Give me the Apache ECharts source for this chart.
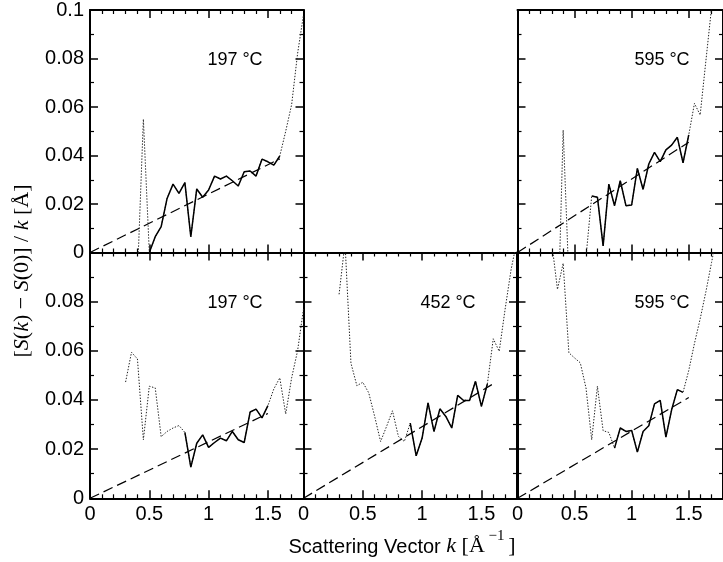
<!DOCTYPE html>
<html><head><meta charset="utf-8">
<script src="https://cdn.jsdelivr.net/npm/echarts@6/dist/echarts.min.js"></script>
<style>html,body{margin:0;padding:0;background:#fff}#c{width:723px;height:562px}</style>
</head><body><div id="c"></div>
<script>
// ---------- data ----------
// top-left panel, 197 °C
const kTL = [0.40,0.45,0.50,0.55,0.60,0.65,0.70,0.75,0.80,0.85,0.90,0.95,1.00,1.05,1.10,1.15,1.20,1.25,1.30,1.35,1.40,1.45,1.50,1.55,1.60,1.65,1.70,1.75,1.80];
const vTL = [-0.010,0.055,0.000,0.0065,0.0107,0.0223,0.0282,0.0244,0.0288,0.0065,0.0262,0.0228,0.0258,0.0315,0.0303,0.0315,0.0296,0.0274,0.0333,0.0336,0.0315,0.0385,0.0374,0.0360,0.0398,0.050,0.061,0.082,0.098];
const solidTL = [0.50, 1.60];
const fitTL = [[0,0],[1.60,0.0386]];

// top-right panel, 595 °C
const kTR = [0.35,0.40,0.45,0.50,0.55,0.60,0.65,0.70,0.75,0.80,0.85,0.90,0.95,1.00,1.05,1.10,1.15,1.20,1.25,1.30,1.35,1.40,1.45,1.50,1.55,1.60,1.65,1.70,1.75];
const vTR = [-0.036,0.0505,-0.011,-0.030,-0.020,-0.002,0.0233,0.0228,0.0027,0.0282,0.0193,0.0296,0.0193,0.0196,0.0347,0.0260,0.0365,0.0413,0.0375,0.0423,0.0443,0.0475,0.0370,0.0485,0.0615,0.0567,0.079,0.101,0.120];
const solidTR = [0.65, 1.50];
const fitTR = [[0,0],[1.50,0.0455]];

// bottom-left panel, 197 °C
const kBL = [0.30,0.35,0.40,0.45,0.50,0.55,0.60,0.65,0.70,0.75,0.80,0.85,0.90,0.95,1.00,1.05,1.10,1.15,1.20,1.25,1.30,1.35,1.40,1.45,1.50,1.55,1.60,1.65,1.70,1.75,1.80];
const vBL = [0.0473,0.0594,0.0567,0.0238,0.0456,0.0449,0.0251,0.0272,0.0286,0.0296,0.0268,0.0127,0.0224,0.0258,0.0207,0.0227,0.0245,0.0234,0.0272,0.0238,0.0227,0.0351,0.0363,0.0327,0.0377,0.0445,0.0490,0.0343,0.0490,0.0600,0.0770];
const solidBL = [0.80, 1.50];
const fitBL = [[0,0],[1.50,0.0345]];

// bottom-middle panel, 452 °C
const kBM = [0.30,0.35,0.40,0.45,0.50,0.55,0.60,0.65,0.70,0.75,0.80,0.85,0.90,0.95,1.00,1.05,1.10,1.15,1.20,1.25,1.30,1.35,1.40,1.45,1.50,1.55,1.60,1.65,1.70,1.75,1.80];
const vBM = [0.083,0.104,0.055,0.0458,0.0472,0.0429,0.0333,0.0231,0.0292,0.0356,0.0252,0.0231,0.0306,0.0173,0.0245,0.0388,0.0272,0.0364,0.0333,0.0286,0.0419,0.0398,0.0398,0.0476,0.0374,0.0465,0.0649,0.0598,0.077,0.093,0.105];
const solidBM = [0.90, 1.55];
const fitBM = [[0,0],[1.60,0.0466]];

// bottom-right panel, 595 °C
const kBR = [0.30,0.35,0.40,0.45,0.50,0.55,0.60,0.65,0.70,0.75,0.80,0.85,0.90,0.95,1.00,1.05,1.10,1.15,1.20,1.25,1.30,1.35,1.40,1.45,1.50,1.55,1.60,1.65,1.70,1.75];
const vBR = [0.104,0.085,0.0956,0.0592,0.0571,0.0551,0.0449,0.0238,0.0456,0.0275,0.0268,0.0204,0.0286,0.0272,0.0276,0.0188,0.0272,0.0295,0.0384,0.0398,0.0249,0.0360,0.0442,0.0431,0.052,0.063,0.073,0.084,0.096,0.108];
const solidBR = [0.85, 1.45];
const fitBR = [[0,0],[1.50,0.041]];

const panelLabels = ['197 °C', '595 °C', '197 °C', '452 °C', '595 °C'];
const xTicks = {min: 0, max: 1.8, interval: 0.5};
const yTicks = {min: 0, max: 0.1, interval: 0.02};

// ---------- layout ----------
const panels = [
  {grid:{left:90,   top:10,    width:213.5, height:242.5}, k:kTL, v:vTL, solid:solidTL, fit:fitTL, yLab:true,  xLab:false, row:0, lx:235, ly:60},
  {grid:{left:517.5,top:10,    width:213.5, height:242.5}, k:kTR, v:vTR, solid:solidTR, fit:fitTR, yLab:false, xLab:false, row:0, lx:662, ly:60},
  {grid:{left:90,   top:252.5, width:213.5, height:245.8}, k:kBL, v:vBL, solid:solidBL, fit:fitBL, yLab:true,  xLab:true,  row:1, lx:235, ly:303},
  {grid:{left:303.5,top:252.5, width:213.5, height:245.8}, k:kBM, v:vBM, solid:solidBM, fit:fitBM, yLab:false, xLab:true,  row:1, lx:448, ly:303},
  {grid:{left:517.5,top:252.5, width:213.5, height:245.8}, k:kBR, v:vBR, solid:solidBR, fit:fitBR, yLab:false, xLab:true,  row:1, lx:662, ly:303}
];

const FONT = '"Liberation Sans", Arial, sans-serif';
const SERIF = '"Liberation Serif", "Times New Roman", serif';
const lineCol = '#000';

function axisBase(isX, show, gi, pos, showMax) {
  const t = isX ? xTicks : yTicks;
  return {
    gridIndex: gi, type: 'value', position: pos,
    min: t.min, max: t.max, interval: t.interval,
    axisLine: {show: true, onZero: false, lineStyle: {color: lineCol, width: 2}},
    axisTick: {show: true, inside: true, length: 8, lineStyle: {color: lineCol, width: 1.5}},
    minorTick: {show: true, splitNumber: isX ? 5 : 2, length: 4, lineStyle: {color: lineCol, width: 1.2}},
    splitLine: {show: false}, minorSplitLine: {show: false},
    axisLabel: {show: show, margin: 6, fontFamily: FONT, fontSize: 20, color: '#000',
      showMaxLabel: showMax, showMinLabel: true}
  };
}

const grids = [], xAxes = [], yAxes = [], series = [], graphics = [];
panels.forEach((p, i) => {
  grids.push(Object.assign({containLabel: false}, p.grid));
  xAxes.push(axisBase(true, p.xLab, i, 'bottom', false));
  xAxes.push(axisBase(true, false, i, 'top', false));
  yAxes.push(axisBase(false, p.yLab, i, 'left', p.row === 0));
  yAxes.push(axisBase(false, false, i, 'right', false));
  const all = p.k.map((x, j) => [x, p.v[j]]);
  const sol = all.filter(d => d[0] >= p.solid[0] - 1e-6 && d[0] <= p.solid[1] + 1e-6);
  series.push({type: 'line', xAxisIndex: 2*i, yAxisIndex: 2*i, data: all, symbol: 'none', clip: true,
    lineStyle: {color: '#222', width: 1, type: [1.4, 1.6]}, silent: true, z: 2});
  series.push({type: 'line', xAxisIndex: 2*i, yAxisIndex: 2*i, data: sol, symbol: 'none', clip: true,
    lineStyle: {color: '#000', width: 1.5}, silent: true, z: 3});
  series.push({type: 'line', xAxisIndex: 2*i, yAxisIndex: 2*i, data: p.fit, symbol: 'none', clip: true,
    lineStyle: {color: '#000', width: 1.2, type: [10, 5]}, silent: true, z: 3});
  graphics.push({type: 'text', x: p.lx, y: p.ly, z: 10,
    style: {text: panelLabels[i], font: '18px ' + FONT, fill: '#000',
      align: 'center', verticalAlign: 'middle', textAlign: 'center', textVerticalAlign: 'middle'}});
});

graphics.push({type: 'text', x: 22, y: 271, rotation: Math.PI / 2, z: 10,
  style: {text: '[{i|S}({i|k}) − {i|S}(0)] / {i|k} [Å]', font: '22px ' + SERIF, fill: '#000',
    align: 'center', verticalAlign: 'middle', textAlign: 'center', textVerticalAlign: 'middle',
    rich: {i: {font: 'italic 22px ' + SERIF, fill: '#000'}}}});

graphics.push({type: 'text', x: 402, y: 543, z: 10,
  style: {text: '{a|Scattering Vector }{i|k}{b| [Å}{s| −1 }{b|]}', fill: '#000',
    align: 'center', verticalAlign: 'middle', textAlign: 'center', textVerticalAlign: 'middle',
    rich: {
      a: {font: '20px ' + FONT, fill: '#000', lineHeight: 28, verticalAlign: 'bottom'},
      i: {font: 'italic 22px ' + SERIF, fill: '#000', lineHeight: 28, verticalAlign: 'bottom'},
      b: {font: '22px ' + SERIF, fill: '#000', lineHeight: 28, verticalAlign: 'bottom'},
      s: {font: '15px ' + SERIF, fill: '#000', lineHeight: 28, verticalAlign: 'top'}
    }}});

const chart = echarts.init(document.getElementById('c'), null, {renderer: 'canvas'});
chart.setOption({
  animation: false,
  backgroundColor: '#fff',
  grid: grids, xAxis: xAxes, yAxis: yAxes, series: series,
  graphic: {elements: graphics}
});
</script>
</body></html>
